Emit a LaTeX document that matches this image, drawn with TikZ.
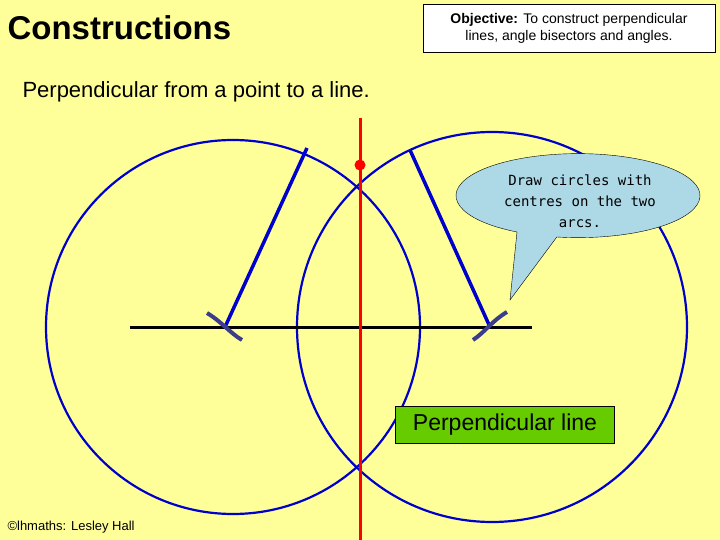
\documentclass[tikz,border=0pt]{standalone}
\usepackage{fontspec}
\setmainfont{Liberation Sans}
\newfontfamily\callfont{DejaVu Sans Mono}
\definecolor{bg}{RGB}{255,255,153}
\definecolor{cblue}{RGB}{0,0,204}
\definecolor{slate}{RGB}{60,60,140}
\definecolor{callout}{RGB}{173,216,230}
\definecolor{gbox}{RGB}{102,204,0}
\begin{document}
\begin{tikzpicture}[x=1pt,y=-1pt,
  circ/.style={draw=cblue,line width=2.2pt},
  rad/.style={draw=cblue,line width=3.5pt},
  arcm/.style={draw=slate,line width=4pt}]
\fill[bg] (0,0) rectangle (720,540);
\useasboundingbox (0,0) rectangle (720,540);
\node[anchor=west,font=\bfseries\fontsize{33}{36}\selectfont] (title) at (4,28) {Constructions};
\node[draw,fill=white,minimum width=292,minimum height=48,align=center,font=\fontsize{14}{17}\selectfont] (obj) at (569,28) {\textbf{Objective:} To construct perpendicular\\lines, angle bisectors and angles.};
\node[anchor=west,font=\fontsize{22}{26}\selectfont] (sub) at (19,92) {Perpendicular from a point to a line.};
\draw[circ] (233,327) circle (187);
\draw[circ] (492,327) circle (195);
\coordinate (A) at (225,327);
\coordinate (B) at (490,327);
\coordinate (A1) at (307,148);
\coordinate (B1) at (410,150);
\draw[line width=3pt] (130,327) -- (532,327);
\draw[red,line width=3pt] (360,118) -- (360,540);
\fill[red] (360,165) circle (5.5);
\draw[rad] (A) -- (A1);
\draw[rad] (B) -- (B1);
\draw[arcm] (207,313) .. controls (222,322) and (230,333) .. (242,340);
\draw[arcm] (507,312) .. controls (493,320) and (485,332) .. (473,340);
\draw[fill=callout] (510,300) -- (517,232) arc[start angle=120,end angle=460,x radius=122,y radius=42] -- cycle;
\node[align=center,font=\fontsize{14}{21}\selectfont\callfont] (tx) at (580,201) {Draw circles with\\centres on the two\\arcs.};
\node[draw,fill=gbox,minimum width=219,minimum height=37,font=\fontsize{23}{26}\selectfont] (pl) at (505,425) {Perpendicular line};
\node[anchor=west,font=\fontsize{13}{15}\selectfont] (ft) at (4,527) {©lhmaths: Lesley Hall};
\end{tikzpicture}
\end{document}
